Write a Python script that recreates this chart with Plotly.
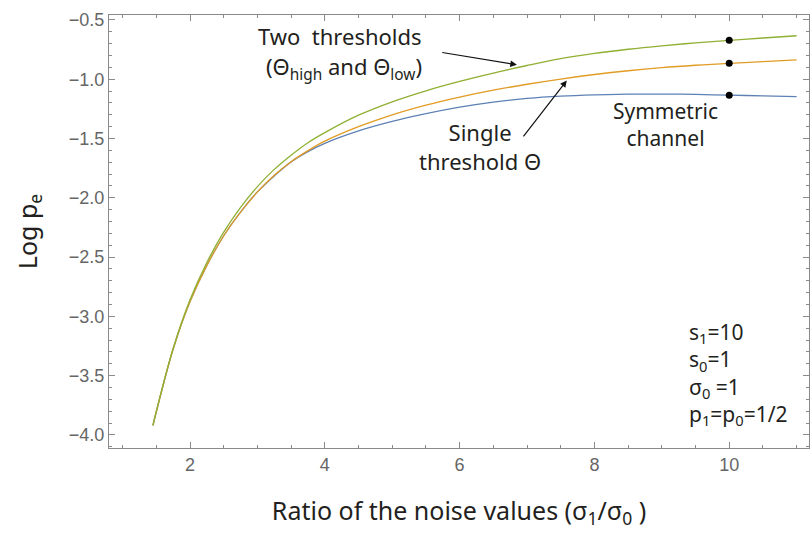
import plotly.graph_objects as go

# Ratio of noise values sigma1/sigma0
ratio = [1.45, 1.5, 1.75, 2.0, 2.25, 2.5, 2.75, 3.0, 3.25, 3.5, 3.75, 4.0, 4.5, 5.0,
         5.5, 6.0, 6.5, 7.0, 7.5, 8.0, 8.5, 9.0, 9.5, 10.0, 10.5, 11.0]

# Log error probability for each detection scheme
two_thresholds = [-3.92, -3.80, -3.27, -2.86, -2.545, -2.29, -2.08, -1.905, -1.76, -1.64,
                  -1.535, -1.45, -1.303, -1.19, -1.097, -1.018, -0.948, -0.884, -0.826,
                  -0.782, -0.747, -0.718, -0.693, -0.672, -0.652, -0.633]
single_threshold = [-3.92, -3.805, -3.275, -2.875, -2.57, -2.32, -2.12, -1.95, -1.81, -1.695,
                    -1.602, -1.522, -1.40, -1.30, -1.218, -1.15, -1.092, -1.042, -0.998,
                    -0.96, -0.928, -0.902, -0.882, -0.866, -0.851, -0.837]
symmetric = [-3.92, -3.805, -3.275, -2.875, -2.57, -2.32, -2.12, -1.95, -1.815, -1.697,
             -1.61, -1.54, -1.435, -1.355, -1.29, -1.235, -1.192, -1.162, -1.143,
             -1.132, -1.126, -1.125, -1.128, -1.134, -1.14, -1.146]

marker_x = 10.0
marker_idx = ratio.index(marker_x)

x_ticks = [2, 4, 6, 8, 10]
y_ticks = [-4.0, -3.5, -3.0, -2.5, -2.0, -1.5, -1.0, -0.5]

BLUE = "#5E81B5"
ORANGE = "#E19C24"
GREEN = "#8FB032"
TXT = "#231f20"
TICK_COL = "#666666"
FRAME = "#8a8a8a"
TFONT = "Noto Sans"

fig = go.Figure()
for ys, col in [(symmetric, BLUE), (single_threshold, ORANGE), (two_thresholds, GREEN)]:
    fig.add_trace(go.Scatter(x=ratio, y=ys, mode="lines",
                             line=dict(color=col, width=1.3, shape="spline", smoothing=1.0),
                             hoverinfo="skip", showlegend=False))

fig.add_trace(go.Scatter(
    x=[marker_x] * 3,
    y=[two_thresholds[marker_idx], single_threshold[marker_idx], symmetric[marker_idx]],
    mode="markers", marker=dict(color="black", size=7), showlegend=False))

ann = []


def label(x, y, text, anchor="center", size=22, align="center"):
    ann.append(dict(x=x, y=y, xref="x", yref="y", text=text, showarrow=False,
                    xanchor=anchor, yanchor="middle", align=align,
                    font=dict(family=TFONT, size=size, color=TXT)))


def arrow(x0, y0, x1, y1):
    ann.append(dict(x=x1, y=y1, ax=x0, ay=y0, xref="x", yref="y", axref="x", ayref="y",
                    text="", showarrow=True, arrowhead=2, arrowsize=1.1, arrowwidth=1.2,
                    arrowcolor="#111111"))


label(4.23, -0.635, "Two  thresholds")
label(4.28, -0.905, "(Θ<sub>high</sub> and Θ<sub>low</sub>)")
arrow(5.72, -0.772, 6.85, -0.878)
label(6.3, -1.57, "Single<br>threshold Θ")
arrow(6.93, -1.495, 7.59, -1.01)
label(9.05, -1.385, "Symmetric<br>channel", size=21)
label(9.37, -3.49,
      "s<sub>1</sub>=10<br>s<sub>0</sub>=1<br>σ<sub>0</sub> =1<br>p<sub>1</sub>=p<sub>0</sub>=1/2",
      "left", size=21, align="left")

axis_common = dict(showline=True, linecolor=FRAME, linewidth=1, mirror="ticks",
                   ticks="inside", tickcolor=FRAME, ticklen=6, showgrid=False, zeroline=False,
                   tickfont=dict(family="Liberation Sans", size=18, color=TICK_COL))

fig.update_layout(
    width=812, height=538,
    margin=dict(l=109, r=3, t=15, b=90),
    plot_bgcolor="white", paper_bgcolor="white",
    annotations=ann,
    xaxis=dict(range=[0.798, 11.184], tickvals=x_ticks, ticktext=[str(v) for v in x_ticks],
               minor=dict(dtick=0.5, tick0=0, ticks="inside", ticklen=3, tickcolor=FRAME),
               title=dict(text="Ratio of the noise values (σ<sub>1</sub>/σ<sub>0</sub> )",
                          font=dict(family=TFONT, size=25, color=TXT), standoff=28),
               **axis_common),
    yaxis=dict(range=[-4.11, -0.458], tickvals=y_ticks, tickformat=".1f",
               minor=dict(dtick=0.1, tick0=0, ticks="inside", ticklen=3, tickcolor=FRAME),
               title=dict(text="Log p<sub>e</sub>", font=dict(family=TFONT, size=25, color=TXT),
                          standoff=24),
               **axis_common),
)

fig.write_html("out.html")
